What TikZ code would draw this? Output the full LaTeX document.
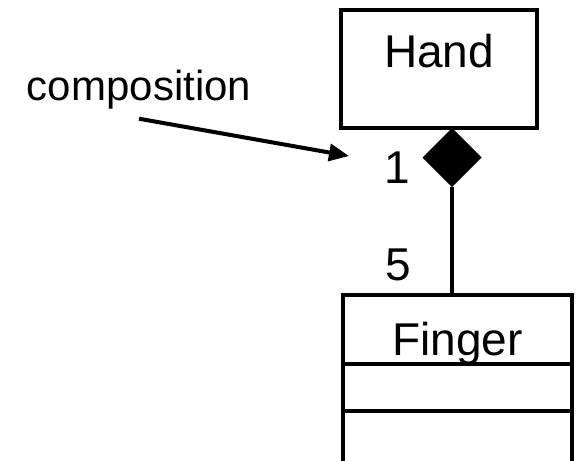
\documentclass[tikz,border=0pt]{standalone}
\usepackage{fontspec}
\setmainfont{Liberation Sans}
\usetikzlibrary{arrows.meta}
\usetikzlibrary{shapes.geometric}

\tikzset{
  classbox/.style={draw, line width=4pt, inner sep=0, outer sep=0, font=\fontsize{46}{50}\selectfont},
  mult/.style={anchor=base, inner sep=0, font=\fontsize{46}{50}\selectfont},
}

\begin{document}
\begin{tikzpicture}[x=1pt, y=-1pt, line width=4pt]
\useasboundingbox (0,0) rectangle (579,461);
\clip (0,0) rectangle (579,461);
% classes
\node[classbox, minimum width=196pt, text height=57pt, text depth=61pt, anchor=base] (hand) at (439,67) {Hand};
\node[classbox, minimum width=229pt, text height=60pt, text depth=9pt, anchor=base] (finger) at (457.5,355) {Finger};
\draw (finger.south west) rectangle ++(229,47);
\draw (finger.south west) ++(0,47) rectangle ++(229,90);
% composition end
\node[diamond, fill=black, minimum width=59pt, minimum height=59pt, inner sep=0, outer sep=0] (whole) at (452,157.5) {};
\draw[line width=3.5pt] (whole.south) -- (whole.south |- finger.north);
\node[mult] (one) at (397,183) {1};
\node[mult] (five) at (398,280) {5};
% note
\node[anchor=base west, inner xsep=0, inner ysep=8pt, font=\fontsize{42}{46}\selectfont] (comp) at (25,100) {composition};
\coordinate (comptip) at (349,156);
\draw[-{Stealth[length=20pt, width=17pt, inset=0pt]}] (comp.south) -- (comptip);
\end{tikzpicture}
\end{document}
